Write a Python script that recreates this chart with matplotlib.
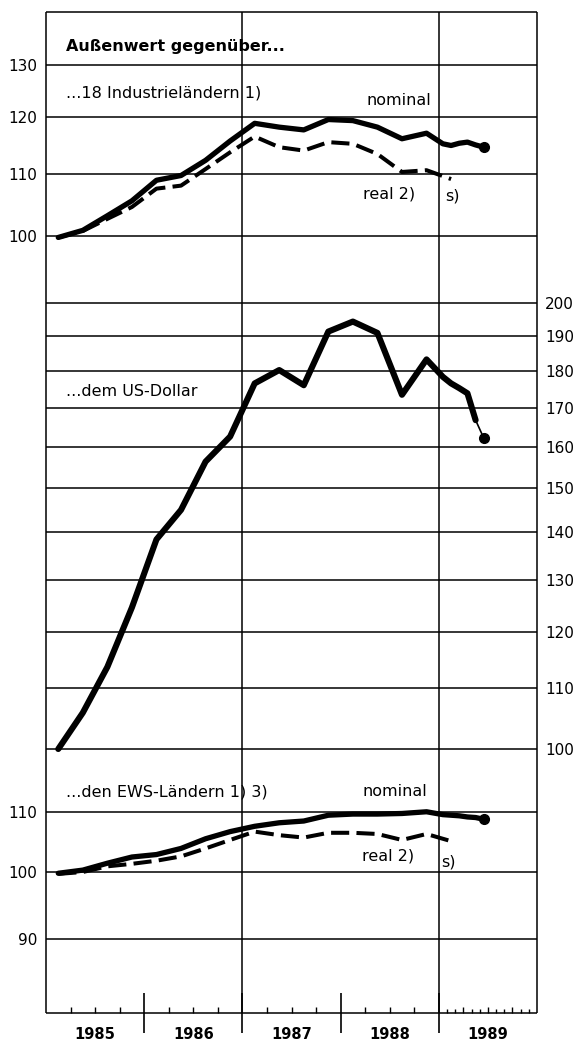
import numpy as np
import matplotlib
matplotlib.use("Agg")
from matplotlib import pyplot as plt
from matplotlib.ticker import FixedLocator, FixedFormatter, NullLocator

# periods: quarterly averages 1985-1988, monthly values 1989
quarters = ["1985Q1", "1985Q2", "1985Q3", "1985Q4",
            "1986Q1", "1986Q2", "1986Q3", "1986Q4",
            "1987Q1", "1987Q2", "1987Q3", "1987Q4",
            "1988Q1", "1988Q2", "1988Q3", "1988Q4"]
months_89 = ["1989-01", "1989-02", "1989-03", "1989-04", "1989-05"]
last_month = "1989-06"
real_last = "1989Q1"

# ...18 Industrielaendern
ind_nominal = [99.7, 100.8, 103.1, 105.5, 108.9, 109.7, 112.3, 115.7,
               118.9, 118.2, 117.7, 119.6, 119.4, 118.2, 116.1, 117.1]
ind_nominal_89 = [115.2, 114.9, 115.3, 115.5, 115.0]
ind_nominal_last = 114.6
ind_real = [99.7, 100.7, 102.6, 104.5, 107.5, 108.0, 110.8, 113.7,
            116.5, 114.6, 114.0, 115.5, 115.2, 113.4, 110.3, 110.6]
ind_real_last = 109.1

# ...dem US-Dollar
usd = [100.0, 105.8, 113.6, 124.6, 138.5, 145.0, 156.3, 162.5,
       176.5, 180.2, 176.0, 191.3, 194.3, 190.9, 173.4, 183.2]
usd_89 = [178.3, 176.5, 175.2, 173.8, 166.7]
usd_last = 162.1

# ...den EWS-Laendern
ews_nominal = [99.8, 100.3, 101.4, 102.4, 102.8, 103.8, 105.4, 106.6,
               107.5, 108.1, 108.4, 109.4, 109.6, 109.6, 109.7, 110.0]
ews_nominal_89 = [109.5, 109.4, 109.3, 109.1, 109.0]
ews_nominal_last = 108.7
ews_real = [99.7, 100.0, 100.9, 101.3, 101.8, 102.5, 103.8, 105.2,
            106.6, 106.0, 105.6, 106.4, 106.4, 106.2, 105.2, 106.2]
ews_real_last = 105.0

top_ticks = [100, 110, 120, 130]
mid_ticks = [100, 110, 120, 130, 140, 150, 160, 170, 180, 190, 200]
bot_ticks = [90, 100, 110]
years = ["1985", "1986", "1987", "1988", "1989"]


def to_year(p):
    # period string -> decimal year at middle of the period
    if "Q" in p:
        y, q = p.split("Q")
        return int(y) + (int(q) - 0.5) / 4
    y, m = p.split("-")
    return int(y) + (int(m) - 0.5) / 12


tq = [to_year(p) for p in quarters]
tm = [to_year(p) for p in months_89]
t_last = to_year(last_month)
t_real_last = to_year(real_last)

W, H = 579, 1041
fig = plt.figure(figsize=(W / 100, H / 100), dpi=100)
fig.patch.set_facecolor("white")

x0, x1 = 46, 537


def make_ax(top_px, bot_px, anchor_px, k):
    # log scale: value 100 sits at anchor_px, k pixels per ln unit
    ax = fig.add_axes([x0 / W, 1 - bot_px / H, (x1 - x0) / W, (bot_px - top_px) / H])
    ax.set_yscale("log")
    ax.set_ylim(100 * np.exp((anchor_px - bot_px) / k), 100 * np.exp((anchor_px - top_px) / k))
    ax.set_xlim(1985, 1990)
    ax.patch.set_alpha(0)
    for s in ax.spines.values():
        s.set_linewidth(1.1)
        s.set_capstyle("butt")
    ax.spines["top"].set_visible(False)
    ax.spines["bottom"].set_visible(False)
    ax.yaxis.set_minor_locator(NullLocator())
    ax.xaxis.set_major_locator(NullLocator())
    ax.xaxis.set_minor_locator(NullLocator())
    for xv in (1987, 1989):
        ax.axvline(xv, color="black", lw=1.1, zorder=1)
    return ax


def set_yticks(ax, ticks, side):
    ax.yaxis.set_major_locator(FixedLocator(ticks))
    ax.yaxis.set_major_formatter(FixedFormatter([str(t) for t in ticks]))
    if side == "right":
        ax.yaxis.tick_right()
    ax.tick_params(axis="y", which="both", length=0, width=0, pad=6, labelsize=11)
    ax.grid(axis="y", color="black", lw=1.1, zorder=1)


ax_top = make_ax(12, 268, 235.5, 648)
ax_top.spines["top"].set_visible(True)
set_yticks(ax_top, top_ticks, "left")

ax_mid = make_ax(268, 780, 749, 643.5)
set_yticks(ax_mid, mid_ticks, "right")

ax_bot = make_ax(780, 1013, 872, 632)
ax_bot.spines["bottom"].set_visible(True)
set_yticks(ax_bot, bot_ticks, "left")

solid = dict(color="black", lw=3.8, solid_joinstyle="round", solid_capstyle="round", zorder=3)
dashed = dict(color="black", lw=2.9, dashes=(4.5, 1.8), dash_capstyle="butt", zorder=3)
dot = dict(marker="o", ms=7, color="black", lw=0, zorder=4)

# top panel
ax_top.plot(tq + tm + [t_last], ind_nominal + ind_nominal_89 + [ind_nominal_last], **solid)
ax_top.plot([t_last], [ind_nominal_last], **dot)
ax_top.plot(tq + [t_real_last], ind_real + [ind_real_last], **dashed)

# middle panel
ax_mid.plot(tq + tm, usd + usd_89, color="black", lw=4.4, solid_joinstyle="round",
            solid_capstyle="round", zorder=3)
ax_mid.plot([tm[-1], t_last], [usd_89[-1], usd_last], color="black", lw=1.2, zorder=3)
ax_mid.plot([t_last], [usd_last], **dot)

# bottom panel
ax_bot.plot(tq + tm + [t_last], ews_nominal + ews_nominal_89 + [ews_nominal_last], **solid)
ax_bot.plot([t_last], [ews_nominal_last], **dot)
ax_bot.plot(tq + [t_real_last], ews_real + [ews_real_last], **dashed)

# time axis
ax_bot.xaxis.set_major_locator(FixedLocator([1986, 1987, 1988, 1989]))
ax_bot.xaxis.set_major_formatter(FixedFormatter([]))
ax_bot.xaxis.set_minor_locator(FixedLocator([y + q / 4 for y in range(1985, 1990) for q in (1, 2, 3)]))
ax_bot.tick_params(axis="x", which="major", direction="inout", length=29, width=1.2)
ax_bot.tick_params(axis="x", which="minor", direction="in", length=4.5, width=1.0)

sec_m = ax_bot.secondary_xaxis("bottom")
sec_m.set_xticks([1989 + m / 12 for m in range(1, 12) if m % 3])
sec_m.set_xticklabels([])
sec_m.tick_params(direction="in", length=2.8, width=1.0)
sec_m.spines["bottom"].set_visible(False)

sec_y = ax_bot.secondary_xaxis("bottom")
sec_y.set_xticks([int(y) + 0.5 for y in years])
sec_y.set_xticklabels(years, fontweight="bold", fontsize=10.5)
sec_y.tick_params(length=0, pad=10)
sec_y.spines["bottom"].set_visible(False)


def label(x, y, s, **kw):
    fig.text(x / W, 1 - y / H, s, va="center", ha="left", fontsize=11.5, **kw)


label(66, 47, "Außenwert gegenüber...", fontweight="bold")
label(66, 93, "...18 Industrieländern 1)")
label(366, 100, "nominal")
label(363, 194, "real 2)")
label(445, 196, "s)")
label(66, 392, "...dem US-Dollar")
label(66, 792, "...den EWS-Ländern 1) 3)")
label(363, 792, "nominal")
label(362, 856, "real 2)")
label(441, 862, "s)")

fig.savefig("out.png", dpi=100, facecolor="white")
